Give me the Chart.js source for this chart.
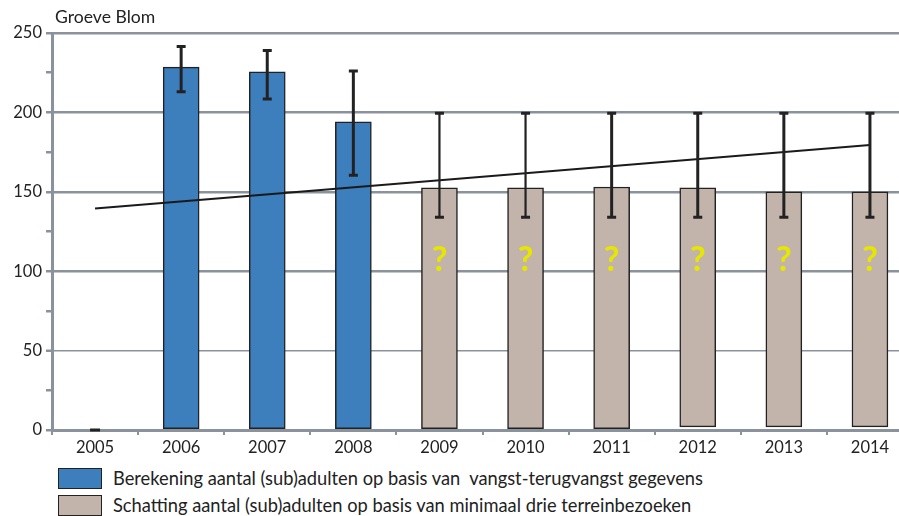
<!DOCTYPE html>
<html>
<head>
<meta charset="utf-8">
<title>Groeve Blom</title>
<script src="https://cdn.jsdelivr.net/npm/chart.js@4.4.1/dist/chart.umd.min.js"></script>
<style>
  html, body { margin: 0; padding: 0; background: #fff; overflow: hidden; }
  body { width: 899px; height: 516px; position: relative; font-family: Lato, "Open Sans", sans-serif; color: #222; }
  #wrap { position: absolute; left: 0; top: 0; width: 916px; height: 460px; }
  #titel { position: absolute; left: 55px; top: 6px; font-size: 17.6px; }
  .leg { position: absolute; left: 58px; height: 22px; font-size: 18.3px; line-height: 22px; }
  .leg span.box { position: absolute; left: 0; top: 0; width: 42px; height: 19px; border: 1.5px solid #222; }
  .leg span.txt { position: absolute; left: 55px; top: -1px; white-space: pre; }
</style>
</head>
<body>
<div id="wrap"><canvas id="grafiek"></canvas></div>
<div id="titel">Groeve Blom</div>
<div class="leg" style="top:468px"><span class="box" style="background:#3d7ebd"></span><span class="txt">Berekening aantal (sub)adulten op basis van  vangst-terugvangst gegevens</span></div>
<div class="leg" style="top:495px"><span class="box" style="background:#c2b4aa"></span><span class="txt">Schatting aantal (sub)adulten op basis van minimaal drie terreinbezoeken</span></div>
<script>
// data
var jaren = ['2005', '2006', '2007', '2008', '2009', '2010', '2011', '2012', '2013', '2014'];
var berekening = [null, 228.5, 225.5, 194, null, null, null, null, null, null];
var schattingTop = [null, null, null, null, 152.5, 152.5, 153, 152.5, 150, 150];
var schattingBasis = [null, null, null, null, 0, 0, 0, 2, 2, 2];
var foutHoog = [0, 241.5, 239, 226, 199.5, 199.5, 199.5, 199.5, 199.5, 199.5];
var foutLaag = [0, 213, 208.5, 160.5, 134, 134, 134, 134, 134, 134];
var trend = [139.5, null, null, null, null, null, null, null, null, 179.5];
var vraagteken = [false, false, false, false, true, true, true, true, true, true];
var yTicks = [0, 50, 100, 150, 200, 250];

var grijs = '#8a939b';
var donker = '#222';

var schatting = schattingTop.map(function(v, i) {
  return v === null ? null : [schattingBasis[i], v];
});

// foutbalken en vraagtekens
var extraTekenen = {
  id: 'extraTekenen',
  afterDatasetsDraw: function(chart) {
    var ctx = chart.ctx, x = chart.scales.x, y = chart.scales.y;
    ctx.save();
    // vraagtekens in de geschatte staven
    ctx.fillStyle = '#e6e600';
    ctx.font = 'bold 34px Lato, sans-serif';
    ctx.textAlign = 'center';
    ctx.textBaseline = 'middle';
    vraagteken.forEach(function(v, i) {
      if (v) ctx.fillText('?', x.getPixelForValue(i), y.getPixelForValue(107));
    });
    ctx.strokeStyle = donker;
    ctx.lineCap = 'butt';
    jaren.forEach(function(j, i) {
      var px = x.getPixelForValue(i);
      var top = y.getPixelForValue(foutHoog[i]);
      var bot = y.getPixelForValue(foutLaag[i]);
      if (foutHoog[i] === foutLaag[i]) {
        ctx.lineWidth = 3;
        ctx.beginPath(); ctx.moveTo(px - 5, top); ctx.lineTo(px + 5, top); ctx.stroke();
        return;
      }
      ctx.lineWidth = (i === 4 || i === 5) ? 2.2 : 3;
      ctx.beginPath(); ctx.moveTo(px, top); ctx.lineTo(px, bot); ctx.stroke();
      ctx.lineWidth = 3;
      ctx.beginPath();
      ctx.moveTo(px - 4.5, top); ctx.lineTo(px + 4.5, top);
      ctx.moveTo(px - 4.5, bot); ctx.lineTo(px + 4.5, bot);
      ctx.stroke();
    });
    ctx.restore();
  }
};

var ctx = document.getElementById('grafiek').getContext('2d');
var chart = new Chart(ctx, {
  type: 'bar',
  data: {
    labels: jaren,
    datasets: [{
      type: 'line',
      label: 'trend',
      data: trend,
      spanGaps: true,
      borderColor: '#1a1a1a',
      borderWidth: 2,
      pointRadius: 0,
      order: 0
    }, {
      label: 'Berekening',
      data: berekening,
      backgroundColor: '#3d7ebd',
      borderColor: donker,
      borderWidth: 1.5,
      borderSkipped: false,
      barThickness: 36,
      grouped: false,
      order: 2
    }, {
      label: 'Schatting',
      data: schatting,
      backgroundColor: '#c2b4aa',
      borderColor: donker,
      borderWidth: 1.5,
      borderSkipped: false,
      barThickness: 36,
      grouped: false,
      order: 2
    }]
  },
  options: {
    responsive: true,
    maintainAspectRatio: false,
    animation: false,
    layout: { padding: { top: 33, right: 3, left: 0, bottom: 0 } },
    plugins: {
      legend: { display: false },
      tooltip: { enabled: false }
    },
    scales: {
      x: {
        offset: true,
        afterFit: function(s) { s.height = 30; },
        grid: {
          offset: true,
          drawOnChartArea: false,
          drawTicks: true,
          tickLength: 5,
          color: grijs,
          lineWidth: 2
        },
        border: { color: grijs, width: 3 },
        ticks: {
          color: donker,
          padding: 3,
          font: { family: 'Lato', size: 16.5 }
        }
      },
      y: {
        min: 0,
        max: 250,
        afterFit: function(s) { s.width = 52; },
        afterBuildTicks: function(s) {
          var t = [];
          for (var v = 0; v <= 250; v += 25) t.push({ value: v });
          s.ticks = t;
        },
        grid: {
          color: function(c) {
            return yTicks.indexOf(c.tick.value) >= 0 && c.tick.value > 0 ? grijs : 'rgba(0,0,0,0)';
          },
          lineWidth: function(c) { return c.tick.value === 50 ? 1.5 : 2.5; },
          tickColor: grijs,
          tickWidth: 2.5,
          tickLength: 6
        },
        border: { color: grijs, width: 3 },
        ticks: {
          color: donker,
          padding: 4,
          font: { family: 'Lato', size: 16.5 },
          callback: function(v) { return yTicks.indexOf(v) >= 0 ? v : ''; }
        }
      }
    }
  },
  plugins: [extraTekenen]
});
</script>
</body>
</html>
